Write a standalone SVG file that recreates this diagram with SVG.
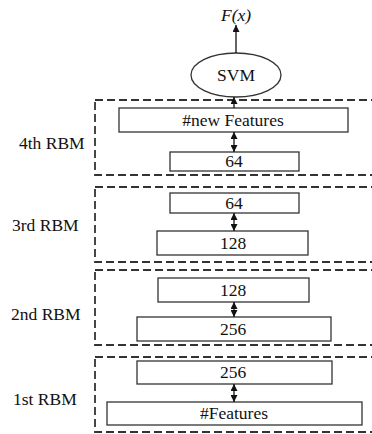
<svg xmlns="http://www.w3.org/2000/svg" width="372" height="434" viewBox="0 0 372 434">
<defs>
<marker id="ah" viewBox="0 0 10 10" refX="10" refY="5" markerWidth="7" markerHeight="7" markerUnits="userSpaceOnUse" orient="auto-start-reverse"><path d="M0,0 L10,5 L0,10 z" fill="#111"/></marker>
<style>
.dash{fill:none;stroke:#333;stroke-width:1.8;stroke-dasharray:8 4}
.box{fill:#fff;stroke:#333;stroke-width:1.3}
.t{font-family:"Liberation Serif","Times New Roman",serif;font-size:17.5px;fill:#111}
.c{text-anchor:middle}
.ln{stroke:#111;stroke-width:1.3;fill:none}
</style>
</defs>
<rect width="372" height="434" fill="#fff"/>
<g id="rbm4">
<rect class="dash" x="95" y="100" width="290" height="75"/>
<text class="t" x="19" y="149">4th RBM</text>
</g>
<g id="rbm3">
<rect class="dash" x="95" y="187" width="290" height="75"/>
<text class="t" x="12" y="231">3rd RBM</text>
</g>
<g id="rbm2">
<rect class="dash" x="95" y="270" width="290" height="75"/>
<text class="t" x="11" y="320">2nd RBM</text>
</g>
<g id="rbm1">
<rect class="dash" x="95" y="357" width="290" height="75"/>
<text class="t" x="13" y="405">1st RBM</text>
</g>
<g id="fx"><text class="t c" x="236" y="21" font-style="italic">F(x)</text></g>
<g id="svm"><ellipse cx="236" cy="75" rx="45" ry="22" fill="#fff" stroke="#333" stroke-width="1.3"/><text class="t c" x="236" y="81">SVM</text></g>
<g id="newfeat"><rect class="box" x="119" y="108" width="229" height="24"/><text class="t c" x="233" y="126">#new Features</text></g>
<g id="n64a"><rect class="box" x="170" y="152" width="129" height="19"/><text class="t c" x="234" y="167">64</text></g>
<g id="n64b"><rect class="box" x="170" y="193" width="129" height="20"/><text class="t c" x="234" y="209">64</text></g>
<g id="n128a"><rect class="box" x="157" y="231" width="151" height="24"/><text class="t c" x="233" y="249">128</text></g>
<g id="n128b"><rect class="box" x="158" y="278" width="151" height="24"/><text class="t c" x="233" y="296">128</text></g>
<g id="n256a"><rect class="box" x="137" y="317" width="194" height="24"/><text class="t c" x="233" y="335">256</text></g>
<g id="n256b"><rect class="box" x="137" y="361" width="195" height="23"/><text class="t c" x="233" y="378">256</text></g>
<g id="feat"><rect class="box" x="107" y="402" width="255" height="23"/><text class="t c" x="234" y="419">#Features</text></g>
<g id="connectors">
<line class="ln" x1="236" y1="53" x2="236" y2="25" marker-end="url(#ah)"/>
<line class="ln" x1="234" y1="108" x2="234" y2="97" marker-end="url(#ah)"/>
<line class="ln" x1="234" y1="132" x2="234" y2="152" marker-start="url(#ah)" marker-end="url(#ah)"/>
<line class="ln" x1="234" y1="213" x2="234" y2="231" marker-start="url(#ah)" marker-end="url(#ah)"/>
<line class="ln" x1="234" y1="302" x2="234" y2="317" marker-start="url(#ah)" marker-end="url(#ah)"/>
<line class="ln" x1="234" y1="384" x2="234" y2="402" marker-start="url(#ah)" marker-end="url(#ah)"/>
</g>
</svg>
